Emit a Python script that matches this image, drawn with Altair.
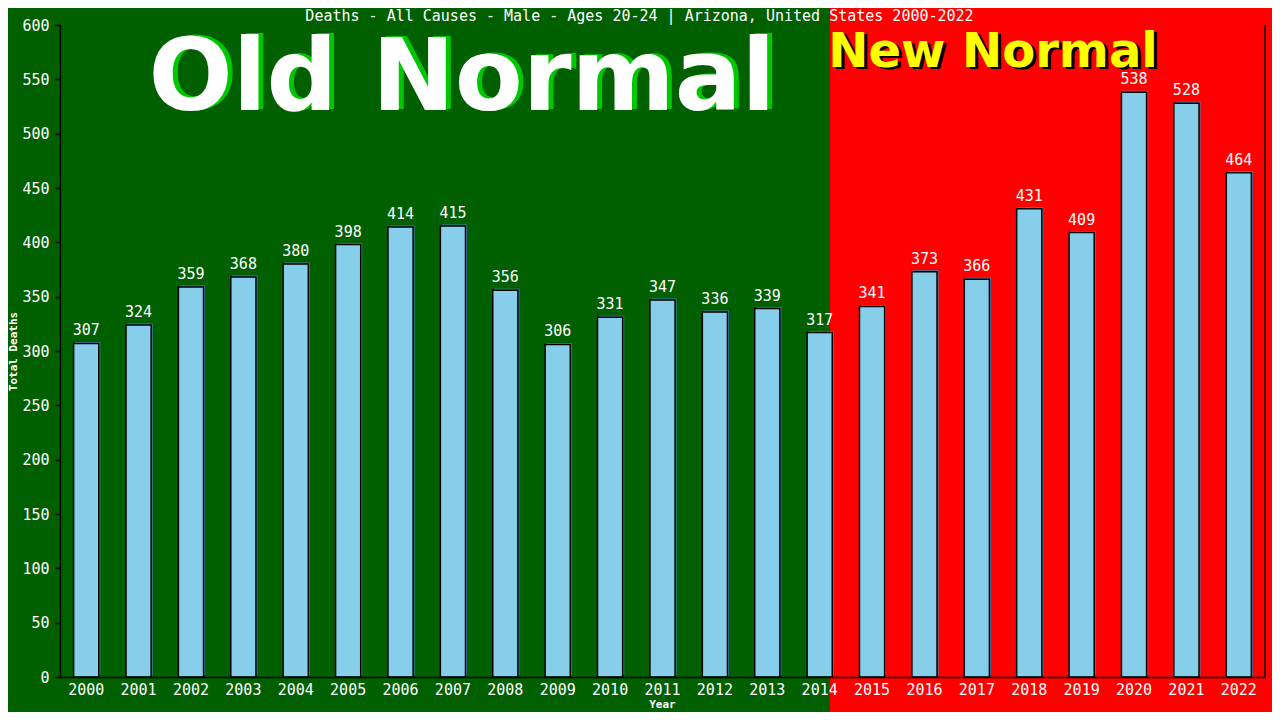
import altair as alt
import pandas as pd

years = [str(y) for y in range(2000, 2023)]
deaths = [307, 324, 359, 368, 380, 398, 414, 415, 356, 306, 331, 347, 336,
          339, 317, 341, 373, 366, 431, 409, 538, 528, 464]
y_ticks = list(range(0, 601, 50))
title_text = ["Deaths - All Causes - Male - Ages 20-24 | Arizona, United States 2000-2022"]
old_label = ["Old Normal"]
new_label = ["New Normal"]

df = pd.DataFrame({"Year": years, "Deaths": deaths})
one = pd.DataFrame({"k": [0]})

W, H = 1205, 652
MONO = "DejaVu Sans Mono"
SANS = "DejaVu Sans"

x_enc = alt.X(
    "Year:O",
    scale=alt.Scale(paddingInner=0.52, paddingOuter=0.26),
    axis=alt.Axis(
        title="Year", labelAngle=0, labelColor="white", labelFont=MONO,
        labelFontSize=15, labelPadding=5, ticks=False, tickSize=0,
        domainColor="black", domainWidth=1.5, titleColor="white",
        titleFont=MONO, titleFontSize=11, titleFontWeight="bold",
        titleX=602, titleY=30, titleBaseline="alphabetic", grid=False, zindex=1,
    ),
)
y_enc = alt.Y(
    "Deaths:Q",
    scale=alt.Scale(domain=[0, 600], nice=False),
    axis=alt.Axis(
        values=y_ticks, title="Total Deaths", titleColor="white", titleFont=MONO,
        titleFontSize=11, titleFontWeight="bold", titleX=-47, titleY=326,
        titleAngle=270, titleBaseline="middle", titleAlign="center",
        labelColor="white", labelFont=MONO, labelFontSize=15, labelPadding=6,
        tickSize=5, tickColor="black", tickWidth=1.5, domainColor="black",
        domainWidth=1.5, grid=False, zindex=1,
    ),
)

red = alt.Chart(one).mark_rect(color="#FF0000").encode(
    x=alt.value(770), x2=alt.value(1230), y=alt.value(-30), y2=alt.value(720)
)

title_df = pd.DataFrame({"t": title_text})
title = alt.Chart(title_df).mark_text(
    font=MONO, fontSize=15, color="white", align="center", baseline="alphabetic"
).encode(text="t:N", x=alt.value(579.5), y=alt.value(-4))

old_df = pd.DataFrame({"t": old_label})
new_df = pd.DataFrame({"t": new_label})

old_shadow = alt.Chart(old_df).mark_text(
    font=SANS, fontWeight="bold", fontSize=99, color="#00C800",
    align="center", baseline="alphabetic"
).encode(text="t:N", x=alt.value(407), y=alt.value(84))
old_text = alt.Chart(old_df).mark_text(
    font=SANS, fontWeight="bold", fontSize=99, color="white",
    align="center", baseline="alphabetic"
).encode(text="t:N", x=alt.value(402), y=alt.value(85))

new_shadow = alt.Chart(new_df).mark_text(
    font=SANS, fontWeight="bold", fontSize=48, color="black",
    align="center", baseline="alphabetic"
).encode(text="t:N", x=alt.value(936), y=alt.value(44))
new_text = alt.Chart(new_df).mark_text(
    font=SANS, fontWeight="bold", fontSize=48, color="#FFFF00",
    align="center", baseline="alphabetic"
).encode(text="t:N", x=alt.value(933), y=alt.value(42))

base = alt.Chart(df)
shadow_bars = base.mark_bar(color="#4682B4", xOffset=1.5, yOffset=-1.5).encode(
    x=x_enc, y=y_enc
)
bars = base.mark_bar(fill="#87CEEB", stroke="black", strokeWidth=1.5).encode(
    x=x_enc, y=y_enc
)
labels = base.mark_text(
    font=MONO, fontSize=15, color="white", baseline="alphabetic", dy=-8
).encode(x=x_enc, y=y_enc, text="Deaths:Q")

right_line = alt.Chart(one).mark_rule(color="black", strokeWidth=1.5).encode(
    x=alt.value(W), y=alt.value(0), y2=alt.value(H)
)

chart = alt.layer(
    red, title, old_shadow, old_text, new_shadow, new_text,
    shadow_bars, bars, labels, right_line
).properties(
    width=W,
    height=H,
    autosize=alt.AutoSizeParams(type="none"),
    padding={"left": 52, "top": 17, "right": 7, "bottom": 35},
    background="#006000",
).configure_view(strokeWidth=0)

chart.save("out.html", embed_options={"renderer": "svg", "actions": False})
